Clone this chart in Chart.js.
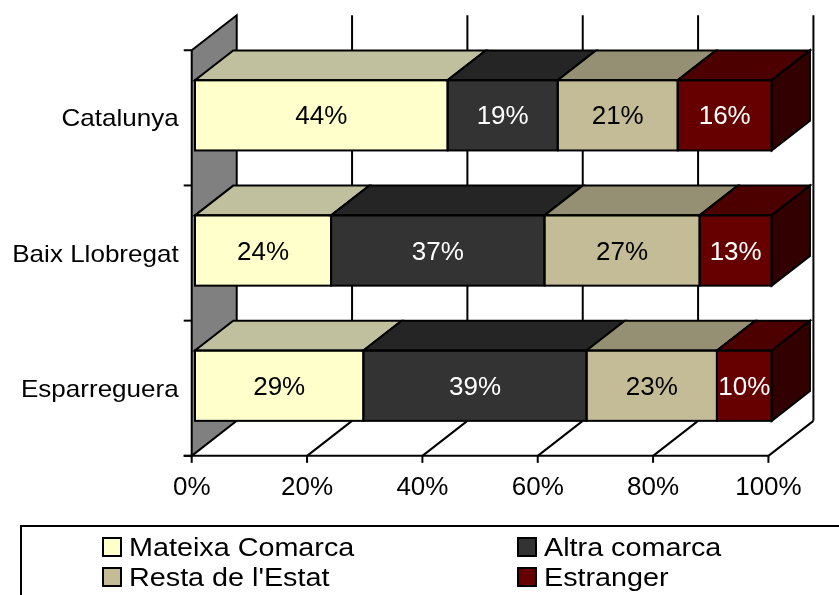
<!DOCTYPE html>
<html>
<head>
<meta charset="utf-8">
<script src="https://cdn.jsdelivr.net/npm/chart.js@4/dist/chart.umd.min.js"></script>
<style>
html,body{margin:0;padding:0;background:#fff;}
#wrap{width:839px;height:595px;position:relative;}
</style>
</head>
<body>
<div id="wrap"><canvas id="c"></canvas></div>
<script>
// ---- data ----
const categories = ['Catalunya', 'Baix Llobregat', 'Esparreguera'];
const seriesNames = ['Mateixa Comarca', 'Altra comarca', "Resta de l'Estat", 'Estranger'];
const mateixaComarca = [43.8, 23.6, 29.2];
const altraComarca   = [19.1, 37.0, 38.7];
const restaEstat     = [20.8, 26.9, 22.6];
const estranger      = [16.3, 12.5, 9.5];
const xTickValues    = [0, 20, 40, 60, 80, 100];

// ---- styles ----
const frontColors = ['#FFFFCC', '#333333', '#C4BC96', '#660000'];
const topColors   = ['#C0C09F', '#252525', '#959073', '#4C0000'];
const sideColor   = '#330000';
const labelColors = ['#000000', '#FFFFFF', '#000000', '#FFFFFF'];
const FONT = '"Liberation Sans", Arial, Helvetica, sans-serif';

const seriesValues = [mateixaComarca, altraComarca, restaEstat, estranger];

// depth geometry
const DX = 45, DY = -35, T0 = 0.073, T1 = 0.923;

function sText(ctx, str, x, y, size, sx, align, color) {
  ctx.save();
  ctx.font = size + 'px ' + FONT;
  ctx.fillStyle = color;
  ctx.textAlign = align;
  ctx.textBaseline = 'alphabetic';
  ctx.translate(x, y);
  ctx.scale(sx, 1);
  ctx.fillText(str, 0, 0);
  ctx.restore();
}
function poly(ctx, pts, fill) {
  ctx.beginPath();
  ctx.moveTo(pts[0][0], pts[0][1]);
  for (let i = 1; i < pts.length; i++) ctx.lineTo(pts[i][0], pts[i][1]);
  ctx.closePath();
  if (fill) { ctx.fillStyle = fill; ctx.fill(); }
  ctx.lineWidth = 2; ctx.strokeStyle = '#000'; ctx.lineJoin = 'miter';
  ctx.stroke();
}
function line(ctx, x1, y1, x2, y2) {
  ctx.beginPath(); ctx.moveTo(x1, y1); ctx.lineTo(x2, y2);
  ctx.lineWidth = 2; ctx.strokeStyle = '#000'; ctx.stroke();
}

const frame3d = {
  id: 'frame3d',
  beforeDatasetsDraw(chart) {
    const ctx = chart.ctx, xs = chart.scales.x, ys = chart.scales.y;
    const P = (v, yp, t) => [xs.getPixelForValue(v) + (t - T0) * DX, yp + (t - T0) * DY];
    const step = ys.getPixelForValue(1) - ys.getPixelForValue(0);
    const yTop = ys.getPixelForValue(0) - step / 2;
    const yBot = ys.getPixelForValue(categories.length - 1) + step / 2;
    ctx.save();
    // side wall
    poly(ctx, [P(0, yTop, 0), P(0, yTop, 1), P(0, yBot, 1), P(0, yBot, 0)], '#808080');
    // back wall gridlines
    xTickValues.forEach(v => {
      if (v === 0) return;
      const a = P(v, yTop, 1), b = P(v, yBot, 1);
      line(ctx, a[0], a[1], b[0], b[1]);
    });
    // floor
    const f0 = P(0, yBot, 0), f1 = P(100, yBot, 0);
    line(ctx, f0[0] - 8, f0[1], f1[0], f1[1]);
    xTickValues.forEach(v => {
      const a = P(v, yBot, 0), b = P(v, yBot, 1);
      if (v !== 0) line(ctx, a[0], a[1], b[0], b[1]);
      line(ctx, a[0], a[1], a[0], a[1] + 7);
      sText(ctx, v + '%', a[0], a[1] + 39, 26, 1, 'center', '#000');
    });
    // y ticks
    for (let k = 0; k <= categories.length; k++) {
      const p = P(0, yTop + k * step, 0);
      line(ctx, p[0] - 8, p[1], p[0], p[1]);
    }
    // y labels
    categories.forEach((c, i) => {
      const p = P(0, ys.getPixelForValue(i), 0);
      sText(ctx, c, p[0] - 13, ys.getPixelForValue(i) + 11, 24, 1.085, 'right', '#000');
    });
    ctx.restore();
  },
  afterDatasetsDraw(chart) {
    const ctx = chart.ctx;
    const bdx = (T1 - T0) * DX, bdy = (T1 - T0) * DY;
    ctx.save();
    const nSets = chart.data.datasets.length;
    for (let d = 0; d < nSets; d++) {
      const meta = chart.getDatasetMeta(d);
      meta.data.forEach((el, i) => {
        const p = el.getProps(['x', 'y', 'base', 'height'], true);
        const l = Math.min(p.x, p.base), r = Math.max(p.x, p.base);
        const t = p.y - p.height / 2, b = p.y + p.height / 2;
        poly(ctx, [[l, t], [r, t], [r + bdx, t + bdy], [l + bdx, t + bdy]], topColors[d]);
        if (d === nSets - 1) {
          poly(ctx, [[r, t], [r + bdx, t + bdy], [r + bdx, b + bdy], [r, b]], sideColor);
        }
        ctx.lineWidth = 2; ctx.strokeStyle = '#000';
        ctx.strokeRect(l, t, r - l, b - t);
        const v = chart.data.datasets[d].data[i];
        sText(ctx, Math.round(v) + '%', (l + r) / 2, p.y + 9, 26, 1, 'center', labelColors[d]);
      });
    }
    ctx.restore();
  },
  afterDraw(chart) {
    const ctx = chart.ctx;
    ctx.save();
    // legend frame
    ctx.beginPath();
    ctx.moveTo(21, 600); ctx.lineTo(21, 526); ctx.lineTo(845, 526);
    ctx.lineWidth = 2; ctx.strokeStyle = '#000'; ctx.stroke();
    const pos = [[103, 538], [518, 538], [103, 568], [518, 568]];
    seriesNames.forEach((n, i) => {
      const [bx, by] = pos[i];
      ctx.fillStyle = frontColors[i];
      ctx.fillRect(bx, by, 18, 18);
      ctx.lineWidth = 2; ctx.strokeStyle = '#000';
      ctx.strokeRect(bx, by, 18, 18);
      sText(ctx, n, bx + 26, by + 18, 25, 1.15, 'left', '#000');
    });
    ctx.restore();
  }
};

new Chart(document.getElementById('c'), {
  type: 'bar',
  data: {
    labels: categories,
    datasets: seriesNames.map((n, i) => ({
      label: n,
      data: seriesValues[i],
      backgroundColor: frontColors[i],
      borderWidth: 0,
      borderSkipped: false,
      barPercentage: 0.52,
      categoryPercentage: 1
    }))
  },
  options: {
    indexAxis: 'y',
    responsive: true,
    maintainAspectRatio: false,
    animation: false,
    layout: { padding: { left: 195, right: 67.3, top: 47.7, bottom: 141.7 } },
    scales: {
      x: { stacked: true, min: 0, max: 100, display: false },
      y: { stacked: true, display: false }
    },
    plugins: { legend: { display: false }, tooltip: { enabled: false } }
  },
  plugins: [frame3d]
});
</script>
</body>
</html>
